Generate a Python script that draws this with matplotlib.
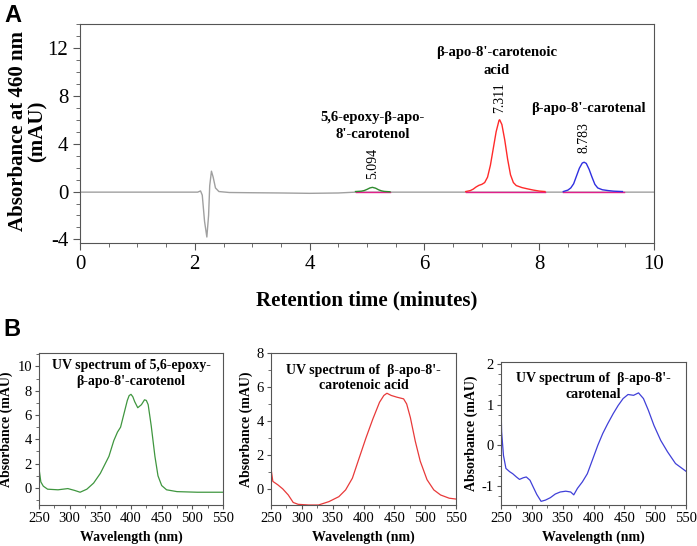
import matplotlib
matplotlib.use("Agg")
import matplotlib.pyplot as plt
from matplotlib.ticker import MultipleLocator

plt.rcParams['font.family'] = ['Liberation Serif', 'DejaVu Serif']
plt.rcParams['axes.unicode_minus'] = False

# ---------------- Data: chromatogram (panel A) ----------------
base_t = [0.0, 1.0, 2.05, 2.10, 2.13, 2.17, 2.21, 2.24, 2.26, 2.29, 2.32, 2.36, 2.42,
          2.6, 3.0, 3.5, 4.0, 4.5, 4.8, 5.5, 6.0, 6.5, 8.2, 9.6, 10.0]
base_v = [-0.05, -0.05, -0.05, 0.05, -0.3, -2.5, -3.8, -2.0, 0.5, 1.7, 1.2, 0.3, 0.0,
          -0.08, -0.1, -0.12, -0.15, -0.12, -0.05, -0.05, -0.05, -0.05, -0.05, -0.05, -0.05]

epoxy_t = [4.80, 4.90, 4.95, 5.00, 5.05, 5.094, 5.15, 5.20, 5.25, 5.30, 5.40]
epoxy_v = [0.0, 0.03, 0.08, 0.18, 0.30, 0.35, 0.28, 0.15, 0.06, 0.01, -0.02]

acid_t = [6.72, 6.80, 6.85, 6.90, 6.95, 7.00, 7.05, 7.10, 7.15, 7.20, 7.25, 7.30, 7.311,
          7.35, 7.40, 7.45, 7.50, 7.55, 7.60, 7.70, 7.80, 7.90, 8.00, 8.10]
acid_v = [0.0, 0.08, 0.2, 0.38, 0.52, 0.6, 0.75, 1.2, 2.2, 3.6, 5.0, 5.95, 6.0,
          5.6, 4.3, 2.7, 1.4, 0.75, 0.5, 0.33, 0.22, 0.12, 0.04, 0.0]

al_t = [8.42, 8.50, 8.55, 8.60, 8.65, 8.70, 8.75, 8.783, 8.82, 8.87, 8.92, 8.97,
        9.02, 9.10, 9.20, 9.30, 9.45]
al_v = [0.0, 0.12, 0.3, 0.65, 1.3, 1.95, 2.38, 2.45, 2.35, 1.85, 1.2, 0.6,
        0.3, 0.15, 0.08, 0.03, 0.0]

peak_rt = [5.094, 7.311, 8.783]
peak_rt_labels = ["5.094", "7.311", "8.783"]
peak_names = ["5,6-epoxy-\u03b2-apo-\n8'-carotenol",
              "\u03b2-apo-8'-carotenoic\nacid",
              "\u03b2-apo-8'-carotenal"]
integ_start = [4.80, 6.72, 8.42]
integ_end = [5.40, 8.10, 9.48]

# ---------------- Data: UV spectra (panel B) ----------------
sp1_nm = [250, 253, 257, 264, 281, 297, 308, 317, 328, 339, 350, 364, 372, 378, 383,
          389, 394, 397, 400, 403, 406, 411, 417, 422, 425, 428, 433, 439, 444, 450,
          458, 475, 508, 550]
sp1_ab = [1.6, 0.5, 0.15, -0.1, -0.15, -0.05, -0.2, -0.35, -0.1, 0.4, 1.2, 2.6, 3.9,
          4.6, 5.0, 6.2, 7.2, 7.6, 7.7, 7.5, 7.1, 6.6, 6.85, 7.25, 7.2, 6.85, 5.1, 2.6,
          1.0, 0.2, -0.15, -0.3, -0.35, -0.35]

sp2_nm = [250, 253, 261, 269, 278, 286, 294, 311, 327, 344, 360, 371, 382, 393, 404,
          415, 426, 433, 438, 445, 454, 465, 470, 476, 484, 492, 503, 514, 525, 539, 550]
sp2_ab = [1.2, 0.44, 0.24, 0.0, -0.36, -0.8, -0.91, -0.95, -0.95, -0.75, -0.46, -0.06,
          0.63, 1.82, 3.0, 4.1, 5.1, 5.5, 5.63, 5.5, 5.4, 5.3, 5.0, 4.2, 2.8, 1.63, 0.54,
          -0.06, -0.36, -0.55, -0.6]

sp3_nm = [250, 251, 254, 258, 264, 269, 275, 280, 286, 291, 297, 302, 308, 315, 322,
          330, 338, 346, 355, 363, 368, 374, 382, 390, 399, 407, 415, 423, 432, 440,
          448, 456, 465, 473, 481, 489, 498, 509, 520, 533, 550]
sp3_ab = [0.98, 0.33, -0.25, -0.57, -0.65, -0.7, -0.78, -0.84, -0.8, -0.78, -0.86,
          -1.02, -1.21, -1.38, -1.35, -1.29, -1.2, -1.15, -1.13, -1.15, -1.22, -1.06,
          -0.9, -0.7, -0.33, 0.0, 0.29, 0.53, 0.78, 0.98, 1.15, 1.25, 1.23, 1.29, 1.15,
          0.86, 0.49, 0.12, -0.16, -0.45, -0.64]

spec_titles = ["UV spectrum of 5,6-epoxy-\n\u03b2-apo-8'-carotenol",
               "UV spectrum of  \u03b2-apo-8'-\ncarotenoic acid",
               "UV spectrum of  \u03b2-apo-8'-\ncarotenal"]

# ---------------- Figure ----------------
W, H = 697, 546
fig = plt.figure(figsize=(W / 100, H / 100), dpi=100)


def rect(l, t, r, b):
    return [l / W, 1 - b / H, (r - l) / W, (b - t) / H]


spine_col = '#555555'

# Panel A
ax = fig.add_axes(rect(80, 24, 654, 243))
ax.plot(base_t, base_v, color='#a0a0a0', lw=1.0)
for s, e in zip(integ_start, integ_end):
    ax.plot([s, e], [0, 0], color='#e0208a', lw=1.0)
ax.plot(epoxy_t, epoxy_v, color='#2e8b2e', lw=1.0)
ax.plot(acid_t, acid_v, color='#ff2a2a', lw=1.0)
ax.plot(al_t, al_v, color='#2f2fe0', lw=1.0)
ax.set_xlim(0, 10)
ax.set_ylim(-4.3, 14)
ax.xaxis.set_major_locator(MultipleLocator(2))
ax.xaxis.set_minor_locator(MultipleLocator(0.5))
ax.yaxis.set_major_locator(MultipleLocator(4))
ax.yaxis.set_minor_locator(MultipleLocator(1))
ax.tick_params(which='both', direction='out', labelsize=15, color=spine_col)
ax.tick_params(which='major', length=5)
ax.tick_params(which='minor', length=3)
for sp in ax.spines.values():
    sp.set_color(spine_col)
ax.set_xlabel("Retention time (minutes)", fontsize=15, fontweight='bold', labelpad=12)
ax.set_ylabel("Absorbance at 460 nm\n(mAU)", fontsize=15, fontweight='bold',
              linespacing=1.0)
ax.yaxis.set_label_coords(-0.056, 0.51)

# peak annotations
rt_y = [1.05, 6.6, 3.2]
name_pos = [(5.1, 4.2), (7.26, 9.6), (8.85, 6.4)]
for rt, lab, ry in zip(peak_rt, peak_rt_labels, rt_y):
    ax.text(rt, ry, lab, rotation=90, ha='center', va='bottom', fontsize=10)
for name, (nx, ny) in zip(peak_names, name_pos):
    ax.text(nx, ny, name, ha='center', va='bottom', fontsize=10.5, fontweight='bold',
            linespacing=1.45)

fig.text(4 / W, 1 - 15 / H, "A", family='Liberation Sans', fontweight='bold',
         fontsize=17, va='center', ha='left')
fig.text(3 / W, 1 - 329 / H, "B", family='Liberation Sans', fontweight='bold',
         fontsize=17, va='center', ha='left')

# Panel B
spec_rects = [rect(39, 353, 223, 505), rect(271, 353, 456, 505), rect(501, 362, 686, 505)]
spec_data = [(sp1_nm, sp1_ab), (sp2_nm, sp2_ab), (sp3_nm, sp3_ab)]
spec_cols = ['#3f963f', '#e83a3a', '#4040d8']
spec_ylims = [(-1.4, 11.1), (-0.95, 8.0), (-1.47, 2.05)]
spec_ymaj = [2, 2, 1]
spec_ymin = [1, 1, 0.25]
title_pos = [(0.5, 0.96), (0.5, 0.93), (0.5, 0.93)]
for i in range(3):
    a = fig.add_axes(spec_rects[i])
    nm, ab = spec_data[i]
    a.plot(nm, ab, color=spec_cols[i], lw=0.9)
    a.set_xlim(250, 550)
    a.set_ylim(*spec_ylims[i])
    a.xaxis.set_major_locator(MultipleLocator(50))
    a.xaxis.set_minor_locator(MultipleLocator(25))
    a.yaxis.set_major_locator(MultipleLocator(spec_ymaj[i]))
    a.yaxis.set_minor_locator(MultipleLocator(spec_ymin[i]))
    a.tick_params(which='both', direction='out', labelsize=10.5, color=spine_col, pad=2)
    a.tick_params(which='major', length=3)
    a.tick_params(which='minor', length=2)
    for sp in a.spines.values():
        sp.set_color(spine_col)
    a.set_xlabel("Wavelength (nm)", fontsize=10, fontweight='bold', labelpad=4)
    a.set_ylabel("Absorbance (mAU)", fontsize=10, fontweight='bold', labelpad=3)
    tx, ty = title_pos[i]
    a.text(tx, ty, spec_titles[i], transform=a.transAxes, ha='center', va='top',
           fontsize=10, fontweight='bold', linespacing=1.25)

fig.savefig("out.png", dpi=100)
